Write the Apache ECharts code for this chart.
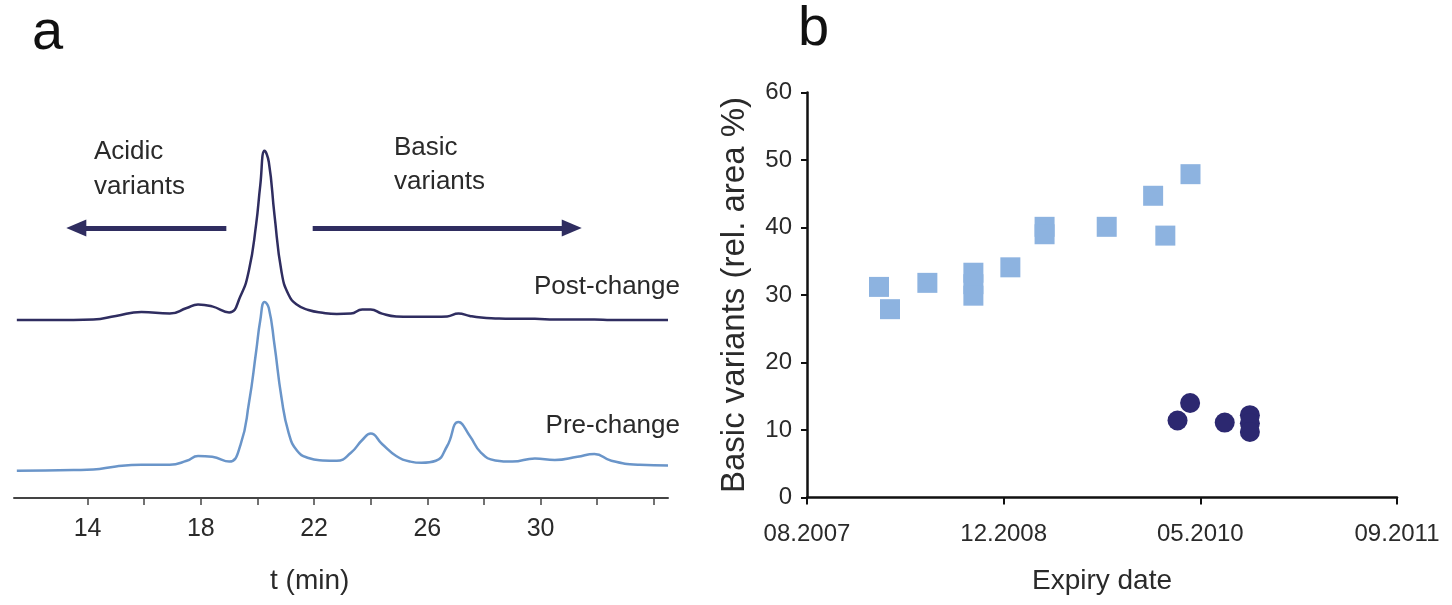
<!DOCTYPE html>
<html>
<head>
<meta charset="utf-8">
<script src="https://cdn.jsdelivr.net/npm/echarts@6/dist/echarts.min.js"></script>
<style>
  html, body { margin: 0; padding: 0; background: #ffffff; }
  #chart { width: 1452px; height: 605px; }
</style>
</head>
<body>
<div id="chart"></div>
<script>
// ---------- Panel a: chromatograms ----------
const timeMin = [11.5, 12.5, 13.5, 14.2, 15, 15.9, 16.9, 17.5, 17.9, 18.4, 19.0, 19.4, 19.7, 19.95, 20.1, 20.25, 20.4, 20.6, 20.85, 21.1, 21.4, 21.8, 22.3, 22.8, 23.3, 23.7, 24.0, 24.4, 24.9, 25.4, 25.8, 26.3, 26.7, 27.1, 27.5, 27.9, 28.4, 29.0, 29.8, 30.5, 31.3, 31.9, 32.5, 33.5, 34.5];
const postChangeSignal = [44.5, 44.5, 44.5, 44.6, 45.5, 46.5, 46.1, 47.5, 48.4, 47.9, 46.4, 50.5, 57.0, 68.3, 78.3, 86.8, 84.0, 70.8, 56.5, 50.8, 48.3, 47.0, 46.3, 46.0, 46.1, 47.1, 47.1, 46.1, 45.4, 45.3, 45.3, 45.3, 45.4, 46.1, 45.5, 45.1, 44.9, 44.8, 44.8, 44.6, 44.6, 44.6, 44.5, 44.5, 44.5];
const preChangeSignal = [6.8, 6.9, 7.0, 7.1, 7.9, 8.3, 8.3, 9.3, 10.5, 10.3, 9.1, 13.3, 23.8, 36.5, 44.5, 49.0, 47.5, 38.3, 25.0, 16.3, 11.8, 10.0, 9.4, 9.3, 11.3, 14.5, 16.1, 13.5, 10.5, 9.1, 8.8, 9.3, 13.0, 19.0, 15.5, 11.3, 9.4, 9.1, 9.9, 9.5, 10.3, 11.0, 9.3, 8.3, 8.1];
const timeTicks = [14, 16, 18, 20, 22, 24, 26, 28, 30, 32, 34];
const timeLabels = [14, 18, 22, 26, 30];

// ---------- Panel b: basic variants vs expiry date ----------
const axisStartDate = '2007-08-15';   // axis origin, tick every 500 days
const preChangeDates = ['2008-02-14', '2008-03-13', '2008-06-16', '2008-10-11', '2008-10-11', '2008-10-11', '2009-01-13', '2009-04-10', '2009-04-10', '2009-09-15', '2010-01-11', '2010-02-11', '2010-04-16'];
const preChangeBasic = [31.2, 27.9, 31.8, 33.3, 31.6, 29.9, 34.1, 40.1, 39.0, 40.1, 44.7, 38.8, 47.9];
const postChangeDates = ['2010-03-14', '2010-04-15', '2010-07-12', '2010-09-14', '2010-09-14', '2010-09-14'];
const postChangeBasic = [11.4, 14.0, 11.1, 12.2, 11.0, 9.7];

const DAY = 86400000;
const t0 = Date.parse(axisStartDate + 'T00:00:00Z');
const toDays = s => (Date.parse(s + 'T00:00:00Z') - t0) / DAY;
const fmtDate = d => {
  const dt = new Date(t0 + d * DAY);
  const m = dt.getUTCMonth() + 1;
  return (m < 10 ? '0' + m : '' + m) + '.' + dt.getUTCFullYear();
};

const FONT = "'Liberation Sans', Arial, Helvetica, sans-serif";
const TXT = '#2a2a2a';
const NAVY = '#2f2d60';
const LIGHTBLUE = '#6a95c9';

const chart = echarts.init(document.getElementById('chart'), null, { renderer: 'canvas' });

const option = {
  animation: false,
  backgroundColor: '#ffffff',
  textStyle: { fontFamily: FONT },
  grid: [
    { left: 14, right: 784, top: 98, bottom: 107 },
    { left: 807, right: 55, top: 92.5, bottom: 107.5 }
  ],
  xAxis: [
    {
      gridIndex: 0, type: 'value', min: 11.4, max: 34.5,
      axisLine: { show: true, lineStyle: { color: '#444', width: 2 } },
      axisTick: { show: true, customValues: timeTicks, length: 7, lineStyle: { color: '#444', width: 1.5 } },
      axisLabel: { customValues: timeLabels, fontSize: 25, color: TXT, margin: 19, fontFamily: FONT },
      splitLine: { show: false }
    },
    {
      gridIndex: 1, type: 'value', min: 0, max: 1500, interval: 500,
      name: 'Expiry date', nameLocation: 'middle', nameGap: 70,
      nameTextStyle: { fontSize: 28, color: TXT, fontFamily: FONT },
      axisLine: { show: true, onZero: false, lineStyle: { color: '#111', width: 2.5 } },
      axisTick: { show: true, length: 7, lineStyle: { color: '#111', width: 2 } },
      axisLabel: { fontSize: 24, color: TXT, margin: 25, fontFamily: FONT, formatter: v => fmtDate(v) },
      splitLine: { show: false }
    }
  ],
  yAxis: [
    { gridIndex: 0, type: 'value', min: 0, max: 100, show: false },
    {
      gridIndex: 1, type: 'value', min: 0, max: 60, interval: 10,
      name: 'Basic variants (rel. area %)', nameLocation: 'middle', nameGap: 56,
      nameTextStyle: { fontSize: 33, color: TXT, fontFamily: FONT },
      axisLine: { show: true, lineStyle: { color: '#111', width: 2.5 } },
      axisTick: { show: true, length: 6, lineStyle: { color: '#111', width: 2 } },
      axisLabel: { fontSize: 24, color: TXT, margin: 15, fontFamily: FONT },
      splitLine: { show: false }
    }
  ],
  series: [
    {
      name: 'Post-change trace', type: 'line', xAxisIndex: 0, yAxisIndex: 0,
      data: timeMin.map((t, i) => [t, postChangeSignal[i]]),
      smooth: 0.5, showSymbol: false,
      lineStyle: { color: NAVY, width: 2.5 },
      markLine: {
        silent: true, symbol: ['none', 'triangle'], symbolSize: [17, 20],
        lineStyle: { color: NAVY, width: 5, type: 'solid' },
        label: { show: false },
        data: [
          [{ coord: [18.9, 67.5] }, { coord: [13.6, 67.5] }],
          [{ coord: [21.95, 67.5] }, { coord: [31.1, 67.5] }]
        ]
      }
    },
    {
      name: 'Pre-change trace', type: 'line', xAxisIndex: 0, yAxisIndex: 0,
      data: timeMin.map((t, i) => [t, preChangeSignal[i]]),
      smooth: 0.5, showSymbol: false,
      lineStyle: { color: LIGHTBLUE, width: 2.5 }
    },
    {
      name: 'Pre-change lots', type: 'scatter', xAxisIndex: 1, yAxisIndex: 1,
      symbol: 'rect', symbolSize: 20,
      itemStyle: { color: '#8db3e0', opacity: 1 },
      data: preChangeDates.map((d, i) => [toDays(d), preChangeBasic[i]])
    },
    {
      name: 'Post-change lots', type: 'scatter', xAxisIndex: 1, yAxisIndex: 1,
      symbol: 'circle', symbolSize: 20,
      itemStyle: { color: '#2c2870', opacity: 1 },
      data: postChangeDates.map((d, i) => [toDays(d), postChangeBasic[i]])
    }
  ],
  graphic: [
    { type: 'text', left: 32, top: 6, style: { text: 'a', font: '56px ' + FONT, fill: '#111' } },
    { type: 'text', left: 798, top: 2, style: { text: 'b', font: '56px ' + FONT, fill: '#111' } },
    { type: 'text', left: 94, top: 134, style: { text: 'Acidic\nvariants', font: '26px ' + FONT, fill: TXT, lineHeight: 35 } },
    { type: 'text', left: 394, top: 131, style: { text: 'Basic\nvariants', font: '26px ' + FONT, fill: TXT, lineHeight: 34 } },
    { type: 'text', right: 772, top: 274, style: { text: 'Post-change', font: '26px ' + FONT, fill: TXT } },
    { type: 'text', right: 772, top: 413, style: { text: 'Pre-change', font: '26px ' + FONT, fill: TXT } },
    { type: 'text', left: 270, top: 567, style: { text: 't (min)', font: '28px ' + FONT, fill: TXT } }
  ]
};

chart.setOption(option);
</script>
</body>
</html>
